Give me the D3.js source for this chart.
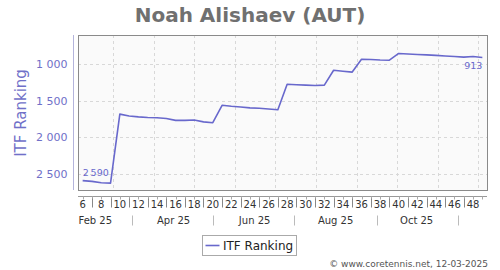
<!DOCTYPE html>
<html>
<head>
<meta charset="utf-8">
<script src="https://cdn.jsdelivr.net/npm/d3@7"></script>
<style>
  html, body { margin: 0; padding: 0; background: #fff; }
  svg { display: block; font-family: "DejaVu Sans", sans-serif; }
</style>
</head>
<body>
<div id="chart"></div>
<script>
// ITF ranking per ISO week of 2025
var weeks = [6, 7, 8, 9, 10, 11, 12, 13, 14, 15, 16, 17, 18, 19, 20, 21, 22, 23, 24, 25, 26, 27,
             28, 29, 30, 31, 32, 33, 34, 35, 36, 37, 38, 39, 40, 41, 42, 43, 44, 45, 46, 47, 48, 49];
var ranks = [2590, 2600, 2620, 2625, 1685, 1710, 1722, 1730, 1735, 1745, 1770, 1770, 1765, 1790, 1802,
             1564, 1578, 1587, 1600, 1605, 1614, 1625, 1278, 1285, 1290, 1295, 1290, 1087, 1100, 1112,
             937, 940, 948, 950, 858, 865, 872, 878, 885, 892, 900, 908, 900, 913];
var weekLabels = [6, 8, 10, 12, 14, 16, 18, 20, 22, 24, 26, 28, 30, 32, 34, 36, 38, 40, 42, 44, 46, 48];
var weekSeps = [7, 9, 11, 13, 15, 17, 19, 21, 23, 25, 27, 29, 31, 33, 35, 37, 39, 41, 43, 45, 47];
var monthLabels = ['Feb 25', 'Apr 25', 'Jun 25', 'Aug 25', 'Oct 25'];
var monthLabelDates = ['2025-02-16', '2025-04-16', '2025-06-16', '2025-08-16', '2025-10-16'];
var monthSepDates = ['2025-03-16', '2025-05-16', '2025-07-16', '2025-09-16', '2025-11-16'];
var yTicks = [1000, 1500, 2000, 2500];

var W = 500, H = 270;
var plot = { left: 78, top: 35, right: 487, bottom: 190 };
var blue = '#6868cc';

var parse = d3.utcParse('%Y-%m-%d');
var week1 = Date.UTC(2024, 11, 30); // monday of ISO week 1
function weekMid(w) { return new Date(week1 + ((w - 1) * 7 + 3.5) * 864e5); }

var x = d3.scaleUtc()
  .domain([new Date(week1 + 35 * 864e5), new Date(week1 + 49 * 7 * 864e5)])
  .range([plot.left, plot.right]);
var y = d3.scaleLinear().domain([607, 2718]).range([plot.top, plot.bottom]);

var svg = d3.select('#chart').append('svg').attr('width', W).attr('height', H);

svg.append('text')
  .attr('x', 250).attr('y', 21.5)
  .attr('text-anchor', 'middle')
  .style('font-size', '20px').style('font-weight', 'bold')
  .attr('fill', '#707070')
  .text('Noah Alishaev (AUT)');

svg.append('rect')
  .attr('x', plot.left + 0.5).attr('y', plot.top + 0.5)
  .attr('width', plot.right - plot.left).attr('height', plot.bottom - plot.top)
  .attr('fill', '#fafafa');

// grid
var monthStarts = d3.utcMonth.range(x.domain()[0], x.domain()[1]);
svg.append('g').selectAll('line').data(monthStarts).enter().append('line')
  .attr('x1', function(d){ return Math.round(x(d)) + 0.5; })
  .attr('x2', function(d){ return Math.round(x(d)) + 0.5; })
  .attr('y1', plot.top).attr('y2', plot.bottom)
  .attr('stroke', '#d8d8d8').attr('stroke-dasharray', '3,3');
svg.append('g').selectAll('line').data(yTicks).enter().append('line')
  .attr('x1', plot.left).attr('x2', plot.right)
  .attr('y1', function(d){ return Math.round(y(d)) + 0.5; })
  .attr('y2', function(d){ return Math.round(y(d)) + 0.5; })
  .attr('stroke', '#d8d8d8').attr('stroke-dasharray', '3,3');

svg.append('rect')
  .attr('x', plot.left + 0.5).attr('y', plot.top + 0.5)
  .attr('width', plot.right - plot.left).attr('height', plot.bottom - plot.top)
  .attr('fill', 'none').attr('stroke', '#8a8a8a');

// y axis (separate line to the left)
var yAxis = d3.axisLeft(y).tickValues(yTicks).tickSize(0).tickPadding(6)
  .tickFormat(function(d){ return d3.format(',')(d).replace(',', ' '); });
var yg = svg.append('g').attr('transform', 'translate(73.5,0)').call(yAxis);
yg.select('.domain').attr('stroke', '#b4b4dc').attr('d', 'M0,' + plot.top + 'V' + plot.bottom);
yg.selectAll('text').attr('fill', '#7070c8').style('font-size', '11px').style('font-family', 'DejaVu Sans');

svg.append('text')
  .attr('transform', 'translate(26,113) rotate(-90)')
  .attr('text-anchor', 'middle')
  .style('font-size', '15px').attr('fill', '#7070c8')
  .text('ITF Ranking');

// x axis
var xg = svg.append('g').attr('transform', 'translate(0,196.5)');
xg.append('line').attr('x1', plot.left).attr('x2', plot.right).attr('stroke', '#999');
xg.selectAll('line.wk').data(weeks).enter().append('line')
  .attr('class', 'wk')
  .attr('x1', function(d){ return Math.round(x(weekMid(d))) + 0.5; })
  .attr('x2', function(d){ return Math.round(x(weekMid(d))) + 0.5; })
  .attr('y1', 0).attr('y2', 3).attr('stroke', '#aaa');
xg.selectAll('text.wl').data(weekLabels).enter().append('text')
  .attr('class', 'wl')
  .attr('x', function(d){ return x(weekMid(d)); }).attr('y', 11)
  .attr('text-anchor', 'middle').style('font-size', '10px').attr('fill', '#333')
  .text(function(d){ return d; });
xg.selectAll('line.ws').data(weekSeps).enter().append('line')
  .attr('class', 'ws')
  .attr('x1', function(d){ return Math.round(x(weekMid(d))) + 0.5; })
  .attr('x2', function(d){ return Math.round(x(weekMid(d))) + 0.5; })
  .attr('y1', 2).attr('y2', 11).attr('stroke', '#888');
xg.selectAll('text.ml').data(monthLabels).enter().append('text')
  .attr('class', 'ml')
  .attr('x', function(d, i){ return x(parse(monthLabelDates[i])); }).attr('y', 27.5)
  .attr('text-anchor', 'middle').style('font-size', '10px').attr('fill', '#333')
  .text(function(d){ return d; });
xg.selectAll('line.ms').data(monthSepDates).enter().append('line')
  .attr('class', 'ms')
  .attr('x1', function(d){ return Math.round(x(parse(d))) + 0.5; })
  .attr('x2', function(d){ return Math.round(x(parse(d))) + 0.5; })
  .attr('y1', 19).attr('y2', 29).attr('stroke', '#bbb');

// line
var line = d3.line()
  .x(function(d, i){ return x(weekMid(weeks[i])); })
  .y(function(d){ return y(d); });
svg.append('path').datum(ranks)
  .attr('d', line).attr('fill', 'none')
  .attr('stroke', blue).attr('stroke-width', 1.6).attr('stroke-linejoin', 'round');

var fmtRank = function(v){ return v >= 1000 ? Math.floor(v / 1000) + '\u2009' + d3.format('03')(v % 1000) : String(v); };
svg.append('text')
  .attr('x', x(weekMid(weeks[0]))).attr('y', y(ranks[0]) - 5)
  .style('font-size', '9.5px').attr('fill', blue)
  .text(fmtRank(ranks[0]));
svg.append('text')
  .attr('x', x(weekMid(weeks[weeks.length - 1]))).attr('y', y(ranks[ranks.length - 1]) + 12)
  .attr('text-anchor', 'end')
  .style('font-size', '9.5px').attr('fill', blue)
  .text(fmtRank(ranks[ranks.length - 1]));

// legend
var lg = svg.append('g').attr('transform', 'translate(202.5,235.5)');
lg.append('rect').attr('width', 94).attr('height', 20).attr('fill', '#fff').attr('stroke', '#aaa');
lg.append('line').attr('x1', 3).attr('x2', 17).attr('y1', 10).attr('y2', 10)
  .attr('stroke', blue).attr('stroke-width', 1.6);
lg.append('text').attr('x', 20.5).attr('y', 14.5)
  .style('font-size', '12px').attr('fill', '#222').text('ITF Ranking');

svg.append('text')
  .attr('x', 488).attr('y', 267)
  .attr('text-anchor', 'end')
  .style('font-size', '9px').attr('fill', '#555')
  .text('\u00a9 www.coretennis.net, 12-03-2025');
</script>
</body>
</html>
